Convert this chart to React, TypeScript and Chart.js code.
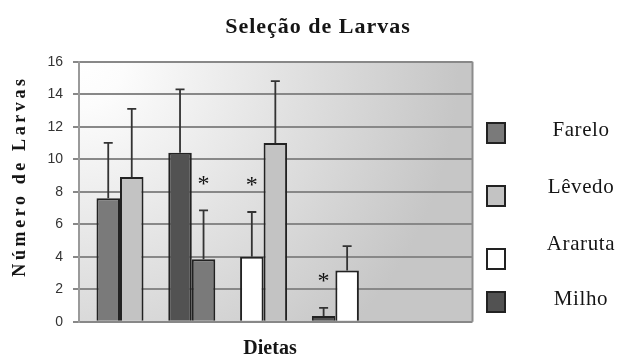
import React, { useEffect, useRef } from 'react';
import { Chart, registerables } from 'chart.js';

Chart.register(...registerables);

// ---------- data ----------
const categories = ['Grupo 1', 'Grupo 2', 'Grupo 3', 'Grupo 4'];
const leftSeries = ['Farelo', 'Milho', 'Araruta', 'Milho'];
const rightSeries = ['Lêvedo', 'Farelo', 'Lêvedo', 'Araruta'];
const leftValues = [7.6, 10.4, 4.0, 0.35];
const rightValues = [8.9, 3.85, 11.0, 3.15];
const leftErrorTop = [11.0, 14.3, 6.75, 0.85];
const rightErrorTop = [13.1, 6.85, 14.8, 4.65];
const leftSignificant = [false, false, true, true];
const rightSignificant = [false, true, false, false];
const legendNames = ['Farelo', 'Lêvedo', 'Araruta', 'Milho'];
const yMin = 0;
const yMax = 16;
const yStep = 2;
const chartTitle = 'Seleção de Larvas';
const xTitle = 'Dietas';
const yTitle = 'Número de Larvas';

const seriesColors: Record<string, string> = {
  Farelo: '#7a7a7a',
  'Lêvedo': '#c3c3c3',
  Araruta: '#ffffff',
  Milho: '#525252',
};

const SERIF = '"Liberation Serif", "Times New Roman", serif';
const SANS = '"Liberation Sans", Arial, sans-serif';

const decorPlugin = {
  id: 'decor',
  beforeDraw(chart: any) {
    const { ctx, chartArea: a } = chart;
    ctx.save();
    ctx.fillStyle = '#ffffff';
    ctx.fillRect(0, 0, chart.width, chart.height);
    const g = ctx.createRadialGradient(a.left, a.top, 0, a.left, a.top, 380);
    g.addColorStop(0, '#ffffff');
    g.addColorStop(0.12, '#fcfcfc');
    g.addColorStop(1, '#c6c6c6');
    ctx.fillStyle = g;
    ctx.fillRect(a.left, a.top, a.right - a.left, a.bottom - a.top);
    ctx.restore();
  },
  afterDatasetsDraw(chart: any) {
    const { ctx, chartArea: a } = chart;
    const yScale = chart.scales.y;
    ctx.save();
    // right frame
    ctx.strokeStyle = '#8c8c8c';
    ctx.lineWidth = 2;
    ctx.beginPath();
    ctx.moveTo(a.right, a.top);
    ctx.lineTo(a.right, a.bottom);
    ctx.stroke();

    const drawErr = (dsIndex: number, tops: number[], sig: boolean[]) => {
      const meta = chart.getDatasetMeta(dsIndex);
      meta.data.forEach((bar: any, i: number) => {
        const x = bar.x;
        const yBar = bar.y;
        const yErr = yScale.getPixelForValue(tops[i]);
        ctx.strokeStyle = '#333333';
        ctx.lineWidth = 1.8;
        ctx.beginPath();
        ctx.moveTo(x, yBar);
        ctx.lineTo(x, yErr);
        ctx.moveTo(x - 4.5, yErr);
        ctx.lineTo(x + 4.5, yErr);
        ctx.stroke();
        if (sig[i]) {
          ctx.fillStyle = '#111111';
          ctx.font = `24px ${SERIF}`;
          ctx.textAlign = 'center';
          ctx.textBaseline = 'middle';
          ctx.fillText('*', x, yErr - 26);
        }
      });
    };
    drawErr(0, leftErrorTop, leftSignificant);
    drawErr(1, rightErrorTop, rightSignificant);
    ctx.restore();
  },
  afterDraw(chart: any) {
    const { ctx } = chart;
    ctx.save();
    ctx.fillStyle = '#151515';
    ctx.textAlign = 'center';
    ctx.textBaseline = 'alphabetic';

    // title
    ctx.font = `bold 22px ${SERIF}`;
    (ctx as any).letterSpacing = '1px';
    ctx.fillText(chartTitle, 318, 33);

    // x title
    ctx.font = `bold 20px ${SERIF}`;
    (ctx as any).letterSpacing = '0px';
    ctx.fillText(xTitle, 270, 354);

    // y title
    ctx.save();
    ctx.translate(25, 178);
    ctx.rotate(-Math.PI / 2);
    ctx.font = `bold 18px ${SERIF}`;
    (ctx as any).letterSpacing = '3.6px';
    ctx.fillText(yTitle, 2, 0);
    ctx.restore();

    // legend
    const boxY = [133, 196, 259, 302];
    const textY = [136, 193, 250, 305];
    (ctx as any).letterSpacing = '0.6px';
    legendNames.forEach((name, i) => {
      ctx.fillStyle = seriesColors[name];
      ctx.fillRect(487, boxY[i] - 10, 18, 20);
      ctx.strokeStyle = '#222222';
      ctx.lineWidth = 2;
      ctx.strokeRect(487, boxY[i] - 10, 18, 20);
      ctx.fillStyle = '#151515';
      ctx.font = `21px ${SERIF}`;
      ctx.textAlign = 'center';
      ctx.fillText(name, 581, textY[i]);
    });
    ctx.restore();
  },
};

export default function App() {
  const ref = useRef<HTMLCanvasElement | null>(null);
  useEffect(() => {
    if (!ref.current) return;
    const chart = new Chart(ref.current, {
      type: 'bar',
      data: {
        labels: categories,
        datasets: [
          {
            label: 'Esquerda',
            data: leftValues.map((v, i) => ({ x: i, y: v })),
            backgroundColor: leftSeries.map((s) => seriesColors[s]),
            borderColor: '#222222',
            borderWidth: 2,
            categoryPercentage: 0.655,
            barPercentage: 1,
          },
          {
            label: 'Direita',
            data: rightValues.map((v, i) => ({ x: i, y: v })),
            backgroundColor: rightSeries.map((s) => seriesColors[s]),
            borderColor: '#222222',
            borderWidth: 2,
            categoryPercentage: 0.655,
            barPercentage: 1,
          },
        ] as any,
      },
      options: {
        animation: false,
        responsive: false,
        devicePixelRatio: 1,
        layout: { padding: { top: 61.7, bottom: 35.3, left: 0, right: 149.5 } },
        plugins: {
          legend: { display: false },
          title: { display: false },
          tooltip: { enabled: false },
        },
        scales: {
          x: {
            type: 'linear',
            display: false,
            offset: false,
            grace: 0,
            bounds: 'data',
            min: -0.571,
            max: 4.91,
            grid: { offset: false },
            afterBuildTicks: (scale: any) => {
              scale.ticks = categories.map((_, i) => ({ value: i }));
            },
          },
          y: {
            min: yMin,
            max: yMax,
            ticks: {
              stepSize: yStep,
              font: { family: SANS, size: 14 },
              color: '#333333',
              padding: 10,
            },
            grid: {
              color: '#888888',
              lineWidth: 2,
              tickLength: 6,
              tickColor: '#888888',
            },
            border: { color: '#9a9a9a', width: 2 },
            afterFit: (scale: any) => {
              scale.width = 79;
            },
          },
        } as any,
      },
      plugins: [decorPlugin],
    });
    return () => chart.destroy();
  }, []);
  return (
    <div style={{ position: 'fixed', left: 0, top: 0, width: 622, height: 357, background: '#fff' }}>
      <canvas ref={ref} width={622} height={357} style={{ display: 'block' }} />
    </div>
  );
}
